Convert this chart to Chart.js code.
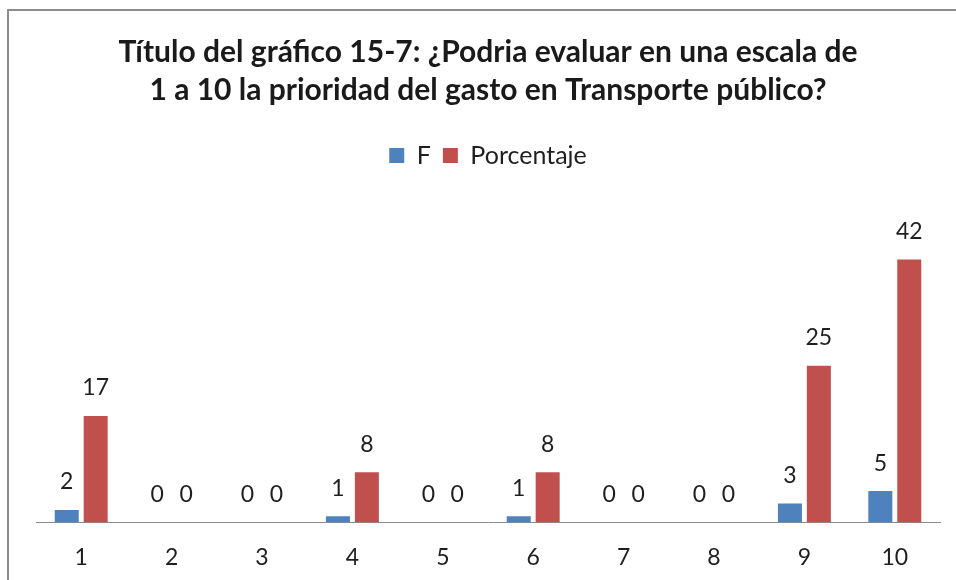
<!DOCTYPE html>
<html>
<head>
<meta charset="utf-8">
<script src="https://cdn.jsdelivr.net/npm/chart.js@4.4.1/dist/chart.umd.min.js"></script>
<style>
  html, body { margin: 0; padding: 0; background: #fff; overflow: hidden; }
  #frame { position: absolute; left: 7px; top: 9px; width: 1000px; height: 700px; border: 2px solid #8c8c8c; }
  #wrap { position: absolute; left: 0; top: 0; width: 956px; height: 580px; }
</style>
</head>
<body>
<div id="frame"></div>
<div id="wrap"><canvas id="myChart" width="956" height="580"></canvas></div>
<script>
const categorias = ["1", "2", "3", "4", "5", "6", "7", "8", "9", "10"];
const valoresF = [2, 0, 0, 1, 0, 1, 0, 0, 3, 5];
const valoresPorcentaje = [17, 0, 0, 8, 0, 8, 0, 0, 25, 42];
const tituloLineas = ["Título del gráfico 15-7: ¿Podria evaluar en una escala de",
                      "1 a 10 la prioridad del gasto en Transporte público?"];

const fontName = "Lato, 'Open Sans', sans-serif";

// etiquetas encima de cada barra
const etiquetasBarras = {
    id: 'etiquetasBarras',
    afterDatasetsDraw: function(chart){
        const ctx = chart.ctx;
        ctx.save();
        ctx.font = "23px " + fontName;
        ctx.fillStyle = "#1f1f1f";
        ctx.textAlign = "center";
        ctx.textBaseline = "middle";
        chart.data.datasets.forEach(function(ds, i){
            const meta = chart.getDatasetMeta(i);
            meta.data.forEach(function(bar, j){
                ctx.fillText(String(ds.data[j]), bar.x, bar.y - 28);
            });
        });
        ctx.restore();
    }
};

const data = {
    labels: categorias,
    datasets: [{
        label: 'F',
        backgroundColor: '#4F81BD',
        data: valoresF,
        categoryPercentage: 0.64,
        barPercentage: 0.83
    }, {
        label: 'Porcentaje',
        backgroundColor: '#C0504D',
        data: valoresPorcentaje,
        categoryPercentage: 0.64,
        barPercentage: 0.83
    }]
};

const config = {
    type: 'bar',
    data: data,
    options: {
        responsive: false,
        animation: false,
        layout: { padding: { left: 36, right: 16, top: 18, bottom: -12 } },
        plugins: {
            title: {
                display: true,
                text: tituloLineas,
                color: '#1a1a1a',
                font: { family: fontName, size: 30, weight: 'bold', lineHeight: 1.25 },
                padding: { top: 16, bottom: 22 }
            },
            legend: {
                display: true,
                labels: {
                    color: '#1f1f1f',
                    font: { family: fontName, size: 25 },
                    boxWidth: 15,
                    boxHeight: 15,
                    padding: 12
                }
            },
            tooltip: { enabled: false }
        },
        scales: {
            x: {
                grid: { display: false, drawTicks: false },
                border: { display: true, color: '#8c8c8c', width: 1 },
                ticks: { color: '#1f1f1f', font: { family: fontName, size: 23 }, padding: 21 }
            },
            y: {
                display: false,
                min: 0,
                max: 55
            }
        }
    },
    plugins: [etiquetasBarras]
};

var myChart = new Chart(document.getElementById('myChart'), config);
</script>
</body>
</html>
